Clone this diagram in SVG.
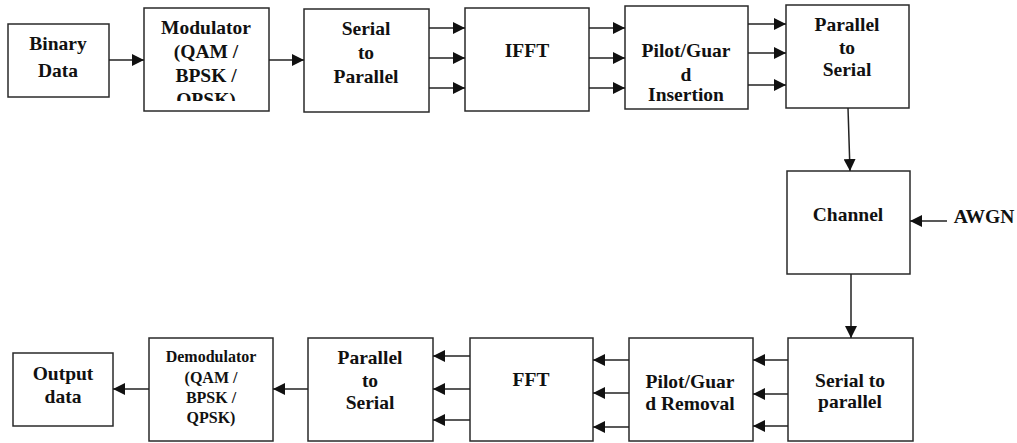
<svg xmlns="http://www.w3.org/2000/svg" width="1017" height="443" viewBox="0 0 1017 443">
<style>
.box{fill:#fff;stroke:#2a2a2a;stroke-width:1.5}
.t{font-family:'Liberation Serif','DejaVu Serif',serif;font-weight:700;font-size:19.5px;fill:#111;text-anchor:middle}
.s{font-size:16px}
.c line{stroke:#222;stroke-width:1.5;marker-end:url(#ah)}
</style>
<defs>
<marker id="ah" markerUnits="userSpaceOnUse" markerWidth="12" markerHeight="12" refX="12" refY="6" orient="auto">
<path d="M0,0 L12,6 L0,12 z" fill="#111"/>
</marker>
<clipPath id="modclip"><rect x="144" y="8" width="125" height="93"/></clipPath>
</defs>
<rect width="1017" height="443" fill="#fff"/>

<g id="binary">
<rect class="box" x="8" y="24" width="101" height="73"/>
<text class="t" x="58" y="50">Binary</text>
<text class="t" x="58" y="77">Data</text>
</g>
<g id="modulator">
<rect class="box" x="144" y="8" width="125" height="103"/>
<g clip-path="url(#modclip)">
<text class="t" x="206" y="34">Modulator</text>
<text class="t" x="206" y="58">(QAM /</text>
<text class="t" x="206" y="82">BPSK /</text>
<text class="t" x="206" y="106">OPSK)</text>
</g>
</g>
<g id="s2p-top">
<rect class="box" x="304" y="9" width="125" height="103"/>
<text class="t" x="366" y="35">Serial</text>
<text class="t" x="366" y="59">to</text>
<text class="t" x="366" y="83">Parallel</text>
</g>
<g id="ifft">
<rect class="box" x="465" y="8" width="124" height="103"/>
<text class="t" x="527" y="57">IFFT</text>
</g>
<g id="pilot-ins">
<rect class="box" x="625" y="6" width="123" height="103"/>
<text class="t" x="686" y="57">Pilot/Guar</text>
<text class="t" x="686" y="81">d</text>
<text class="t" x="686" y="101">Insertion</text>
</g>
<g id="p2s-top">
<rect class="box" x="786" y="5" width="123" height="103"/>
<text class="t" x="847" y="31">Parallel</text>
<text class="t" x="847" y="54">to</text>
<text class="t" x="847" y="76">Serial</text>
</g>
<g id="channel">
<rect class="box" x="787" y="171" width="123" height="103"/>
<text class="t" x="848" y="221">Channel</text>
</g>
<g id="awgn">
<text class="t" x="984" y="223">AWGN</text>
</g>
<g id="s2p-bot">
<rect class="box" x="788" y="338" width="125" height="103"/>
<text class="t" x="850" y="387">Serial to</text>
<text class="t" x="850" y="408">parallel</text>
</g>
<g id="pilot-rem">
<rect class="box" x="629" y="338" width="124" height="103"/>
<text class="t" x="690" y="388">Pilot/Guar</text>
<text class="t" x="690" y="410">d Removal</text>
</g>
<g id="fft">
<rect class="box" x="470" y="338" width="123" height="103"/>
<text class="t" x="531" y="386">FFT</text>
</g>
<g id="p2s-bot">
<rect class="box" x="308" y="338" width="125" height="103"/>
<text class="t" x="370" y="364">Parallel</text>
<text class="t" x="370" y="387">to</text>
<text class="t" x="370" y="409">Serial</text>
</g>
<g id="demodulator">
<rect class="box" x="149" y="338" width="124" height="103"/>
<text class="t s" x="211" y="362">Demodulator</text>
<text class="t s" x="211" y="383">(QAM /</text>
<text class="t s" x="211" y="403">BPSK /</text>
<text class="t s" x="211" y="423">QPSK)</text>
</g>
<g id="output">
<rect class="box" x="13" y="353" width="100" height="73"/>
<text class="t" x="63" y="380">Output</text>
<text class="t" x="63" y="403">data</text>
</g>

<g id="connectors" class="c">
<line x1="109" y1="60" x2="144" y2="60"/>
<line x1="269" y1="60" x2="304" y2="60"/>
<line x1="429" y1="28" x2="465" y2="28"/>
<line x1="429" y1="58" x2="465" y2="58"/>
<line x1="429" y1="88" x2="465" y2="88"/>
<line x1="589" y1="28" x2="625" y2="28"/>
<line x1="589" y1="58" x2="625" y2="58"/>
<line x1="589" y1="88" x2="625" y2="88"/>
<line x1="748" y1="24" x2="786" y2="24"/>
<line x1="748" y1="53" x2="786" y2="53"/>
<line x1="748" y1="85" x2="786" y2="85"/>
<line x1="848" y1="108" x2="850" y2="171"/>
<line x1="947" y1="221" x2="910" y2="221"/>
<line x1="851" y1="274" x2="851" y2="338"/>
<line x1="788" y1="360" x2="753" y2="360"/>
<line x1="788" y1="394" x2="753" y2="394"/>
<line x1="788" y1="426" x2="753" y2="426"/>
<line x1="629" y1="360" x2="593" y2="360"/>
<line x1="629" y1="393" x2="593" y2="393"/>
<line x1="629" y1="427" x2="593" y2="427"/>
<line x1="470" y1="356" x2="433" y2="356"/>
<line x1="470" y1="389" x2="433" y2="389"/>
<line x1="470" y1="420" x2="433" y2="420"/>
<line x1="308" y1="389" x2="273" y2="389"/>
<line x1="149" y1="389" x2="113" y2="389"/>
</g>
</svg>
